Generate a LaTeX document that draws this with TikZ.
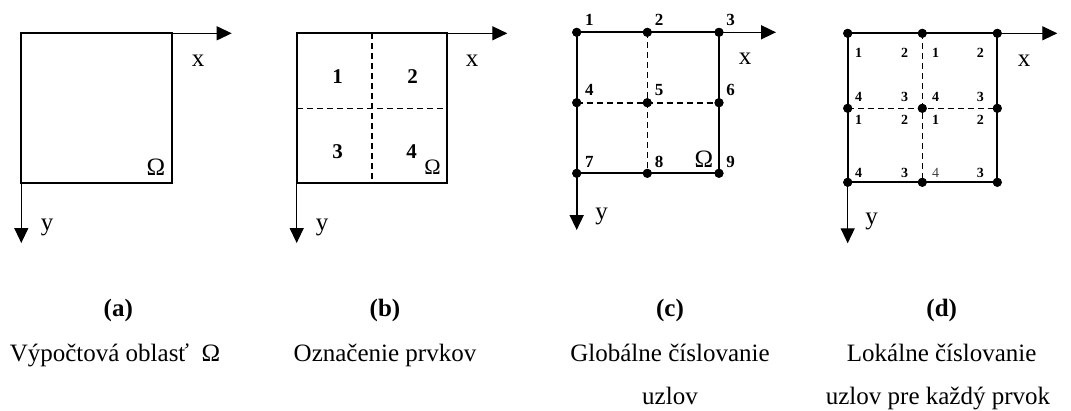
\documentclass[tikz,border=0pt]{standalone}
\usepackage{fontspec}
\setmainfont{Liberation Serif}
\usetikzlibrary{arrows.meta}
\begin{document}
\begin{tikzpicture}[x=1bp,y=-1bp,
  axis/.style={line width=1.3bp,-{Triangle[length=15bp,width=14bp]}},
  frame/.style={line width=2bp},
  gridline/.style={line width=1.6bp,dash pattern=on 6bp off 4bp},
  pt/.style={circle,fill=black,inner sep=0pt,minimum size=9bp},
  lbl/.style={font=\fontsize{25bp}{27bp}\selectfont,inner sep=0pt},
  elem/.style={font=\fontsize{21bp}{23bp}\selectfont\bfseries,inner sep=0pt},
  glob/.style={font=\fontsize{17bp}{19bp}\selectfont\bfseries,inner sep=0pt},
  loc/.style={font=\fontsize{14bp}{16bp}\selectfont\bfseries,inner sep=0pt},
  locl/.style={font=\fontsize{14bp}{16bp}\selectfont,inner sep=0pt,text=black!75},
  captxt/.style={font=\fontsize{25bp}{27bp}\selectfont,inner sep=0pt,anchor=base},
  capbold/.style={font=\fontsize{25bp}{27bp}\selectfont\bfseries,inner sep=0pt,anchor=base}]
\useasboundingbox (0,0) rectangle (1071,410);
% ---------- (a)
\coordinate (a1) at (21.3,33.3);
\coordinate (a2) at (172.3,33.3);
\coordinate (a3) at (172.3,183.3);
\coordinate (a4) at (21.3,183.3);
\coordinate (ax) at (231.7,33.3);
\coordinate (ay) at (21.3,243);
\draw[axis] (a2) -- (ax);
\draw[axis] (a4) -- (ay);
\draw[frame] (a1) -- (a2) -- (a3) -- (a4) -- cycle;
\node[lbl] (axl) at (198,61) {x};
\node[lbl] (ayl) at (47,227) {y};
\node[lbl] (aom) at (156,167) {Ω};
% ---------- (b)
\coordinate (b1) at (296.7,33.3);
\coordinate (b2) at (447.3,33.3);
\coordinate (b3) at (447.3,183.3);
\coordinate (b4) at (296.7,183.3);
\coordinate (bt) at (371.7,33.3);
\coordinate (bb) at (371.7,183.3);
\coordinate (bl) at (296.7,108.3);
\coordinate (br) at (447.3,108.3);
\coordinate (bx) at (507.3,33.3);
\coordinate (by) at (296.7,243);
\draw[axis] (b2) -- (bx);
\draw[axis] (b4) -- (by);
\draw[gridline] (bt) -- (bb);
\draw[gridline] (bl) -- (br);
\draw[frame] (b1) -- (b2) -- (b3) -- (b4) -- cycle;
\node[lbl] (bxl) at (472,61) {x};
\node[lbl] (byl) at (322,227) {y};
\node[elem] (e1) at (337.7,76.7) {1};
\node[elem] (e2) at (412.7,76.7) {2};
\node[elem] (e3) at (337.7,151.7) {3};
\node[elem] (e4) at (411.5,151.7) {4};
\node[lbl] (bom) at (432.5,167) {\fontsize{22bp}{24bp}\selectfont Ω};
% ---------- (c)
\node[pt] (n1) at (576.7,32.3) {};
\node[pt] (n2) at (647.3,32.3) {};
\node[pt] (n3) at (719,32.3) {};
\node[pt] (n4) at (576.7,102.7) {};
\node[pt] (n5) at (647.3,102.7) {};
\node[pt] (n6) at (719,102.7) {};
\node[pt] (n7) at (576.7,173.3) {};
\node[pt] (n8) at (647.3,173.3) {};
\node[pt] (n9) at (719,173.3) {};
\coordinate (cx) at (776,32.3);
\coordinate (cy) at (576.7,230);
\draw[axis,line width=1.6bp] (n3.center) -- (cx);
\draw[axis,line width=1.6bp] (n7.center) -- (cy);
\draw[gridline] (n2.center) -- (n8.center);
\draw[gridline] (n4.center) -- (n6.center);
\draw[frame] (n1.center) -- (n3.center) -- (n9.center) -- (n7.center) -- cycle;
\foreach \n in {1,...,9} \node[pt] at (n\n) {};
\node[glob] (g1) at (589.3,20) {1};
\node[glob] (g2) at (659,20) {2};
\node[glob] (g3) at (730.7,20) {3};
\node[glob] (g4) at (589.3,90) {4};
\node[glob] (g5) at (659,90) {5};
\node[glob] (g6) at (730.7,90) {6};
\node[glob] (g7) at (589.3,161.7) {7};
\node[glob] (g8) at (659,161.7) {8};
\node[glob] (g9) at (730.7,161.7) {9};
\node[lbl] (com) at (704,159) {Ω};
\node[lbl] (cxl) at (745,58.5) {x};
\node[lbl] (cyl) at (601.7,216) {y};
% ---------- (d)
\node[pt] (m1) at (847.7,33.3) {};
\node[pt] (m2) at (922.3,33.3) {};
\node[pt] (m3) at (997.3,33.3) {};
\node[pt] (m4) at (847.7,108.3) {};
\node[pt] (m5) at (922.3,108.3) {};
\node[pt] (m6) at (997.3,108.3) {};
\node[pt] (m7) at (847.7,182.3) {};
\node[pt] (m8) at (922.3,182.3) {};
\node[pt] (m9) at (997.3,182.3) {};
\coordinate (dx) at (1057.3,33.3);
\coordinate (dy) at (847.7,243.3);
\draw[axis] (m3.center) -- (dx);
\draw[axis] (m7.center) -- (dy);
\draw[gridline] (m2.center) -- (m8.center);
\draw[gridline] (m4.center) -- (m6.center);
\draw[frame] (m1.center) -- (m3.center) -- (m9.center) -- (m7.center) -- cycle;
\foreach \n in {1,...,9} \node[pt] at (m\n) {};
\node[lbl] (dxl) at (1024,61) {x};
\node[lbl] (dyl) at (871.7,221) {y};
% local numbers
\node[loc] (l11) at (858.7,53.3) {1};
\node[loc] (l12) at (904.7,53.3) {2};
\node[loc] (l21) at (935.7,53.3) {1};
\node[loc] (l22) at (980.3,53.3) {2};
\node[loc] (l14) at (858.7,96.7) {4};
\node[loc] (l13) at (904.7,96.7) {3};
\node[loc] (l24) at (935.7,96.7) {4};
\node[loc] (l23) at (980.3,96.7) {3};
\node[loc] (l31) at (858.7,120) {1};
\node[loc] (l32) at (904.7,120) {2};
\node[loc] (l41) at (935.7,120) {1};
\node[loc] (l42) at (980.3,120) {2};
\node[loc] (l34) at (858.7,173.3) {4};
\node[loc] (l33) at (904.7,173.3) {3};
\node[locl] (l44) at (935.7,173.3) {4};
\node[loc] (l43) at (980.3,173.3) {3};
% ---------- captions
\node[capbold] (ca) at (118.3,316.5) {(a)};
\node[capbold] (cb) at (385,316.5) {(b)};
\node[capbold] (cc) at (670,316.5) {(c)};
\node[capbold] (cd) at (941.7,316.5) {(d)};
\node[captxt] (ta) at (115,361.5) {Výpočtová oblasť\ \ Ω};
\node[captxt] (tb) at (385,361.5) {Označenie prvkov};
\node[captxt] (tc1) at (670,361.5) {Globálne číslovanie};
\node[captxt] (tc2) at (670,404) {uzlov};
\node[captxt] (td1) at (941.7,361.5) {Lokálne číslovanie};
\node[captxt] (td2) at (938,404) {uzlov pre každý prvok};
\end{tikzpicture}
\end{document}
